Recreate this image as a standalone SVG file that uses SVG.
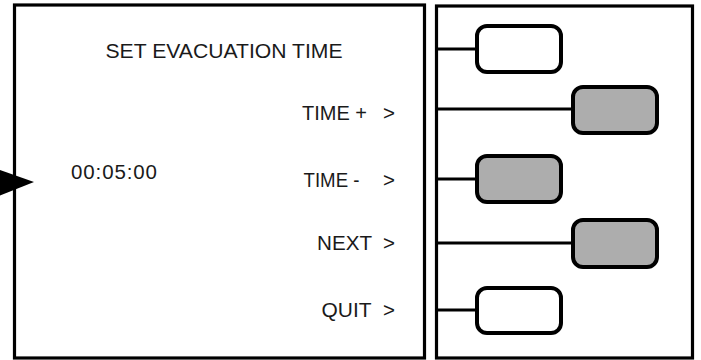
<svg xmlns="http://www.w3.org/2000/svg" width="701" height="360" viewBox="0 0 701 360">
  <style>
    .panel { fill: #ffffff; stroke: #000000; stroke-width: 3.2; }
    .btn { stroke: #000000; stroke-width: 4; }
    .on { fill: #adadad; }
    .off { fill: #ffffff; }
    .conn { stroke: #000000; stroke-width: 3; fill: none; }
    .t { font-family: "Liberation Sans", Arial, Helvetica, sans-serif; font-size: 20.5px; fill: #1a1a1a; }
  </style>
  <rect width="701" height="360" fill="#ffffff"/>
  <g id="screen">
    <rect class="panel" x="14.5" y="5" width="410" height="353"/>
    <text class="t" x="105.5" y="57.5" textLength="237" lengthAdjust="spacingAndGlyphs">SET EVACUATION TIME</text>
    <text class="t" x="71" y="179" textLength="86" lengthAdjust="spacing">00:05:00</text>
    <text class="t" x="302" y="120" textLength="65" lengthAdjust="spacingAndGlyphs">TIME +</text>
    <text class="t" x="383" y="120">&gt;</text>
    <text class="t" x="303.5" y="187" textLength="56" lengthAdjust="spacingAndGlyphs">TIME -</text>
    <text class="t" x="383" y="187">&gt;</text>
    <text class="t" x="317" y="250" textLength="55" lengthAdjust="spacingAndGlyphs">NEXT</text>
    <text class="t" x="383" y="250">&gt;</text>
    <text class="t" x="321.5" y="317" textLength="50" lengthAdjust="spacingAndGlyphs">QUIT</text>
    <text class="t" x="383" y="317">&gt;</text>
  </g>
  <g id="pointer">
    <polygon points="-6,168 34,182 -6,198" fill="#000000"/>
  </g>
  <g id="keypad">
    <rect class="panel" x="436.5" y="6" width="256" height="352"/>
  </g>
  <g id="connectors">
    <line class="conn" x1="437" y1="49" x2="477" y2="49"/>
    <line class="conn" x1="437" y1="109" x2="573" y2="109"/>
    <line class="conn" x1="437" y1="179" x2="477" y2="179"/>
    <line class="conn" x1="437" y1="243" x2="573" y2="243"/>
    <line class="conn" x1="437" y1="310" x2="477" y2="310"/>
  </g>
  <g id="btn1"><rect class="btn off" x="477" y="26" width="84" height="46" rx="10"/></g>
  <g id="btn2"><rect class="btn on" x="573" y="87" width="84" height="46" rx="10"/></g>
  <g id="btn3"><rect class="btn on" x="477" y="156" width="84" height="46" rx="10"/></g>
  <g id="btn4"><rect class="btn on" x="573" y="220" width="84" height="47" rx="10"/></g>
  <g id="btn5"><rect class="btn off" x="477" y="288" width="84" height="45" rx="10"/></g>
</svg>
